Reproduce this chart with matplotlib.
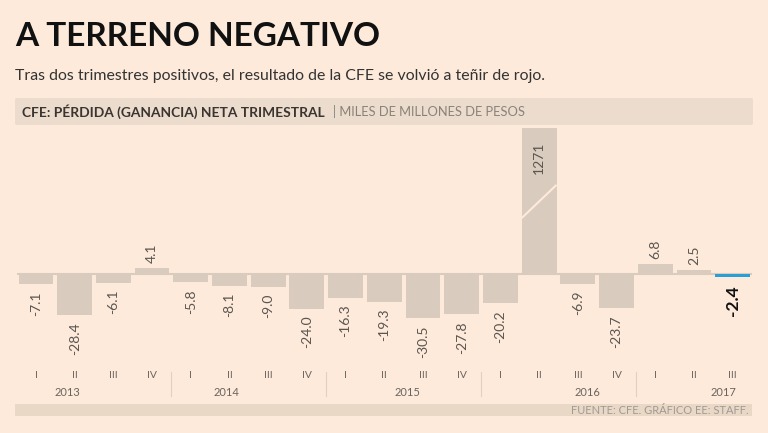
import matplotlib
matplotlib.use("Agg")
import matplotlib.pyplot as plt
import matplotlib.transforms as mtransforms
from matplotlib.patches import FancyBboxPatch, Rectangle
import numpy as np

# quarterly net loss (gain) of CFE, 2013-I .. 2017-III
quarters = ['I', 'II', 'III', 'IV'] * 4 + ['I', 'II', 'III']
years = ['2013', '2014', '2015', '2016', '2017']
values = [-7.1, -28.4, -6.1, 4.1,
          -5.8, -8.1, -9.0, -24.0,
          -16.3, -19.3, -30.5, -27.8,
          -20.2, 1271, -6.9, -23.7,
          6.8, 2.5, -2.4]
labels = ['-7.1', '-28.4', '-6.1', '4.1',
          '-5.8', '-8.1', '-9.0', '-24.0',
          '-16.3', '-19.3', '-30.5', '-27.8',
          '-20.2', '1271', '-6.9', '-23.7',
          '6.8', '2.5', '-2.4']

bg = '#fdeadb'
bar_col = '#d9cbbd'
blue = '#2a9fd6'
txt_gray = '#5a5550'

plt.rcParams['font.family'] = ['Lato', 'DejaVu Sans']

fig = plt.figure(figsize=(7.68, 4.33), dpi=100)
fig.patch.set_facecolor(bg)

W, H = 768, 433
def fx(px):
    return px / W
def fy(py):
    return 1 - py / H

# title + subtitle
fig.text(fx(15), fy(46), 'A TERRENO NEGATIVO', fontsize=24, fontweight='bold',
         color='#111111', ha='left', va='baseline')
fig.text(fx(15), fy(80), 'Tras dos trimestres positivos, el resultado de la CFE se volvió a teñir de rojo.',
         fontsize=11.4, color='#333333', ha='left', va='baseline')

# header band
fig.patches.append(FancyBboxPatch((fx(15), fy(125)), fx(753) - fx(15), fy(98) - fy(125),
                                  boxstyle='round,pad=0,rounding_size=0.003',
                                  transform=fig.transFigure, facecolor='#ecdccd',
                                  edgecolor='none', zorder=0))
fig.text(fx(22), fy(112), 'CFE: PÉRDIDA (GANANCIA) NETA TRIMESTRAL', fontsize=9.9,
         fontweight='bold', color='#3a3530', ha='left', va='center')
fig.text(fx(333), fy(112), '| MILES DE MILLONES DE PESOS', fontsize=9.3,
         color='#8a827a', ha='left', va='center')

# footer band
fig.patches.append(Rectangle((fx(15), fy(416)), fx(752) - fx(15), fy(404) - fy(416),
                             transform=fig.transFigure, facecolor='#ead8c7',
                             edgecolor='none', zorder=0))
fig.text(fx(749), fy(410.5), 'FUENTE: CFE. GRÁFICO EE: STAFF.', fontsize=8,
         color='#a09a94', ha='right', va='center')

# bars
ax = fig.add_axes([fx(17), fy(360), fx(752) - fx(17), fy(128) - fy(360)])
ax.set_facecolor('none')
x = np.arange(len(values))
colors = [bar_col] * (len(values) - 1) + [blue]
bars = ax.bar(x, values, width=0.9, color=colors, zorder=2)
ax.axhline(0, color=bar_col, lw=1.5, zorder=1)
ax.set_xlim(-0.49, 18.5)
ax.set_ylim(-59.3, 100.7)
ax.axis('off')

# break mark on the very tall bar
big = int(np.argmax(values))
ax.plot([big - 0.45, big + 0.45], [38.6, 61.5], color=bg, lw=1.5, zorder=3,
        solid_capstyle='butt')

for i, (v, lab) in enumerate(zip(values, labels)):
    if i == big:
        ax.annotate(lab, xy=(i, 100.7), xytext=(0, -10), textcoords='offset points',
                    rotation=90, ha='center', va='top', fontsize=10,
                    color=txt_gray, zorder=4)
    elif i == len(values) - 1:
        ax.annotate(lab, xy=(i, v), xytext=(0, -6), textcoords='offset points',
                    rotation=90, ha='center', va='top', fontsize=12.5,
                    fontweight='bold', color='#111111')
    elif v < 0:
        ax.annotate(lab, xy=(i, v), xytext=(0, -5), textcoords='offset points',
                    rotation=90, ha='center', va='top', fontsize=10,
                    color=txt_gray)
    else:
        ax.annotate(lab, xy=(i, v), xytext=(0, 4), textcoords='offset points',
                    rotation=90, ha='center', va='bottom', fontsize=10,
                    color=txt_gray)

# category axis: quarters, years, separators
trans = mtransforms.blended_transform_factory(ax.transData, fig.transFigure)
for i, q in enumerate(quarters):
    ax.text(i, fy(376), q, transform=trans, ha='center', va='center',
            fontsize=7.5, color='#6a645e')
year_pos = [0.82, 4.93, 9.6, 14.25, 17.75]
for p, yr in zip(year_pos, years):
    ax.text(p, fy(392), yr, transform=trans, ha='center', va='center',
            fontsize=8, color='#6a645e')
for s in [3.5, 7.5, 11.5, 15.5]:
    ax.plot([s, s], [fy(372), fy(396)], transform=trans, color='#e2d0c0',
            lw=0.8, clip_on=False)

fig.savefig('out.png', dpi=100, facecolor=bg)
